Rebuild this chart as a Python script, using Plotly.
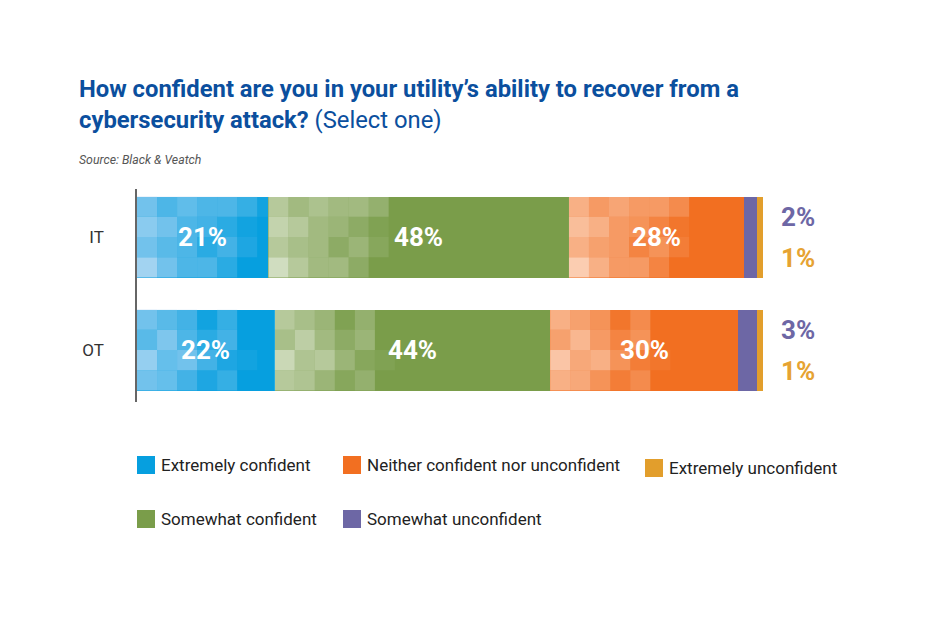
import plotly.graph_objects as go

categories = ["IT", "OT"]
series_names = ["Extremely confident", "Somewhat confident", "Neither confident nor unconfident",
                "Somewhat unconfident", "Extremely unconfident"]
series_colors = ["#069fdf", "#7a9d4a", "#f26f21", "#6d67a5", "#e29e2c"]
it_values = [21, 48, 28, 2, 1]
ot_values = [22, 44, 30, 3, 1]
values_by_cat = {"IT": it_values, "OT": ot_values}

FONT = "Liberation Sans Narrow, Roboto, Arial"
OFF = 8  # page body offset
W, H = 936, 624
L, T = 137 - OFF, 189 - OFF
R = W - (763 - OFF)
B = H - (402 - OFF)
PW, PH = W - L - R, H - T - B
BAR_W = 0.717

fig = go.Figure()
for i, name in enumerate(series_names):
    vals = [values_by_cat[c][i] for c in categories]
    fig.add_trace(go.Bar(
        y=categories, x=vals, name=name, orientation="h",
        marker=dict(color=series_colors[i], line=dict(width=0)),
        width=BAR_W, textposition="none",
        showlegend=False, hoverinfo="x+name",
    ))

# decorative mosaic overlay (lighter cells on left of first three segments)
alpha_it = [[.45, .30, .38, .30, .30, .20, .05],
            [.55, .45, .30, .25, .15, .05, .0],
            [.45, .35, .30, .15, .25, .10, .0],
            [.65, .45, .30, .30, .15, .0, .0]]
alpha_ot = [[.45, .35, .25, .05, .20, .0, .0],
            [.35, .50, .30, .15, .25, .0, .0],
            [.60, .40, .45, .25, .10, .05, .0],
            [.45, .40, .25, .10, .20, .0, .0]]
overlay_rgb = ["190,220,245", "255,255,255", "255,255,255"]
cell_w = 3.2
ncols = [7, 6, 6]
cat_index = {"OT": 0, "IT": 1}
shapes = []
annotations = []
for c in categories:
    vals = values_by_cat[c]
    alpha = alpha_it if c == "IT" else alpha_ot
    yc = cat_index[c]
    start = 0
    for s in range(3):
        end = start + vals[s]
        for col in range(ncols[s]):
            x0 = start + col * cell_w
            x1 = min(x0 + cell_w, end)
            if x0 >= end:
                break
            for row in range(4):
                a = alpha[row][col]
                if a <= 0:
                    continue
                if s == 0:
                    a = min(1.0, a * 1.3)
                y1 = yc + BAR_W / 2 - row * BAR_W / 4
                y0 = y1 - BAR_W / 4
                shapes.append(dict(type="rect", xref="x", yref="y", x0=x0, x1=x1, y0=y0, y1=y1,
                                   fillcolor=f"rgba({overlay_rgb[s]},{a:.2f})", line=dict(width=0),
                                   layer="above"))
        # inside value label (drawn above the mosaic)
        annotations.append(dict(x=(start + end) / 2, y=yc, xref="x", yref="y", showarrow=False,
                                text=f"<b>{vals[s]}%</b>",
                                font=dict(size=26, color="white", family=FONT)))
        start = end

# outside small-segment labels
for c in categories:
    vals = values_by_cat[c]
    yc = cat_index[c]
    annotations.append(dict(x=1, xref="paper", xanchor="left", xshift=16, y=yc + 0.18, yref="y",
                            text=f"<b>{vals[3]}%</b>", showarrow=False,
                            font=dict(size=26, color=series_colors[3], family=FONT)))
    annotations.append(dict(x=1, xref="paper", xanchor="left", xshift=16, y=yc - 0.19, yref="y",
                            text=f"<b>{vals[4]}%</b>", showarrow=False,
                            font=dict(size=26, color="#e6a332", family=FONT)))

def px_x(px):
    return (px - OFF - L) / PW

def px_y(py):
    return (H - B - (py - OFF)) / PH

annotations.append(dict(x=px_x(77), y=px_y(73), xref="paper", yref="paper", xanchor="left", yanchor="top",
                        align="left", showarrow=False,
                        text="<b>How confident are you in your utility’s ability to recover from a</b><br>"
                             "<b>cybersecurity attack?</b> (Select one)",
                        font=dict(size=23.8, color="#0b4f9e", family="Roboto"),
                        ))
annotations.append(dict(x=px_x(77), y=px_y(160), xref="paper", yref="paper", xanchor="left", yanchor="middle",
                        showarrow=False, text="<i>Source: Black &amp; Veatch</i>",
                        font=dict(size=12.3, color="#555555", family="Roboto")))

# manual legend (column-major order)
leg_cols = [137, 343, 645]
leg_rows = [465, 519]
leg_pos = [(0, 0), (0, 1), (1, 0), (1, 1), (2, 0)]
for i, name in enumerate(series_names):
    col, row = leg_pos[i]
    x0 = leg_cols[col]
    yc = leg_rows[row] + (3 if col == 2 else 0)
    shapes.append(dict(type="rect", xref="paper", yref="paper",
                       x0=px_x(x0), x1=px_x(x0 + 18), y0=px_y(yc + 9), y1=px_y(yc - 9),
                       fillcolor=series_colors[i], line=dict(width=0)))
    annotations.append(dict(x=px_x(x0 + 22), y=px_y(yc), xref="paper", yref="paper",
                            xanchor="left", yanchor="middle", showarrow=False, text=name,
                            font=dict(size=17, color="#222222", family=FONT)))

fig.update_layout(
    barmode="stack", width=W, height=H,
    margin=dict(l=L, r=R, t=T, b=B),
    paper_bgcolor="white", plot_bgcolor="white",
    bargap=0,
    shapes=shapes, annotations=annotations,
    showlegend=False,
    xaxis=dict(range=[0, 100], visible=False, fixedrange=True),
    yaxis=dict(categoryorder="array", categoryarray=["OT", "IT"], range=[-0.46, 1.425],
               showline=True, linecolor="#666666", linewidth=1.5, showgrid=False, zeroline=False,
               ticks="outside", ticklen=28, tickcolor="rgba(0,0,0,0)",
               tickfont=dict(size=17, color="#333333", family=FONT)),
)

fig.write_html("out.html")
